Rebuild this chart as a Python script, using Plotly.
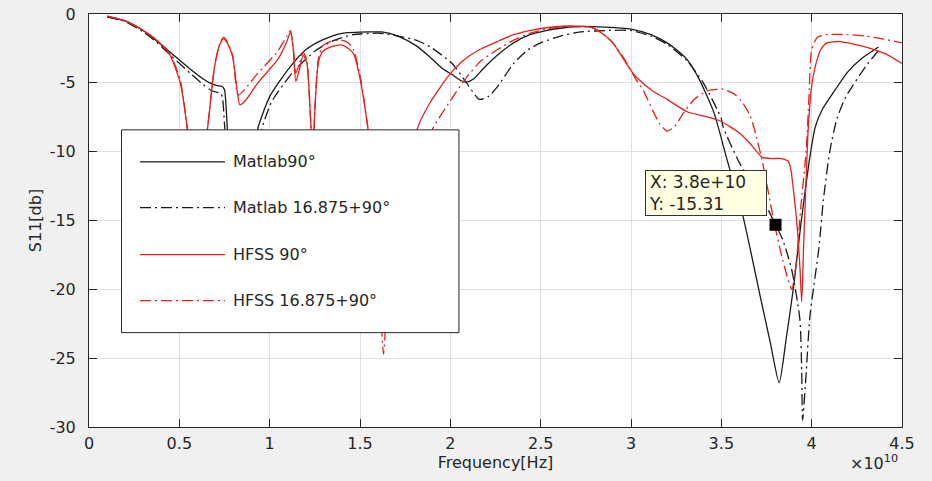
import plotly.graph_objects as go

# ---- data: frequency in GHz, |S11| in dB ----
matlab90_ghz = [1.0, 2.0, 3.0, 3.7, 4.6, 5.6, 6.3, 6.7, 7.1, 7.35, 7.5, 7.6, 7.7, 7.85, 8.15, 8.55,
                8.95, 9.25, 9.35, 10.0, 11.1, 12.0, 12.9, 14.0, 15.7, 16.2, 17.1, 18.1, 18.85, 19.6,
                20.1, 20.6, 20.9, 21.3, 21.8, 22.6, 23.5, 24.4, 25.3, 26.3, 27.2, 28.6, 30.0, 31.1,
                32.0, 32.7, 33.1, 33.8, 34.6, 35.3, 36.2, 37.2, 37.7, 38.2, 38.6, 39.0, 39.4, 39.9,
                40.2, 40.6, 41.2, 42.0, 42.7, 43.7]
matlab90_db = [-0.2, -0.5, -1.2, -1.9, -2.9, -4.0, -4.7, -5.0, -5.2, -5.25, -5.5, -7.0, -9.5, -13, -17, -19,
               -14, -9.5, -8.3, -6.0, -3.9, -2.6, -1.9, -1.4, -1.3, -1.3, -1.6, -2.3, -3.1, -4.0,
               -4.4, -4.85, -4.95, -4.7, -4.0, -3.0, -2.1, -1.5, -1.2, -1.0, -0.9, -0.95, -1.1, -1.5,
               -2.1, -2.8, -3.3, -4.8, -7.2, -10.5, -14.7, -20.8, -23.8, -26.8, -23.5, -19.8, -15.3, -10.4,
               -8.2, -6.9, -5.7, -4.2, -3.3, -2.4]

matlab_shift_ghz = [1.0, 2.0, 3.0, 3.7, 4.6, 5.6, 6.3, 6.7, 7.1, 7.3, 7.4, 7.5, 7.6, 7.9, 8.3, 8.7,
                    9.1, 9.4, 9.55, 10.1, 11.3, 12.6, 13.6, 14.6, 16.1, 17.1, 18.1, 18.9, 20.1, 20.9,
                    21.6, 22.1, 22.6, 23.5, 24.3, 25.0, 26.1, 27.2, 28.6, 30.0, 31.1, 32.0, 33.1, 34.0,
                    35.0, 35.1, 36.0, 37.5, 38.0, 38.4, 38.9, 39.35, 39.45, 39.5, 39.7, 39.9, 40.4,
                    40.65, 41.0, 41.4, 41.9, 43.0, 43.8]
matlab_shift_db = [-0.2, -0.55, -1.3, -2.0, -3.1, -4.3, -5.1, -5.5, -5.7, -5.75, -6.2, -8.0, -10, -14, -18, -19,
                   -14, -9.5, -8.4, -6.4, -4.2, -2.6, -1.9, -1.5, -1.4, -1.6, -1.9, -2.4, -3.6, -5.0,
                   -6.2, -6.0, -5.3, -3.6, -2.6, -2.1, -1.6, -1.3, -1.2, -1.2, -1.6, -2.2, -3.4, -5.0,
                   -7.6, -8.2, -10.8, -14.0, -15.31, -16.4, -18.6, -22.2, -26.0, -29.5, -26.0, -22.0, -17.0,
                   -13.5, -10.0, -7.6, -6.0, -3.8, -2.5]

hfss90_ghz = [1.0, 2.0, 3.0, 3.75, 4.45, 5.05, 5.45, 5.65, 5.85, 6.1, 6.3, 6.55, 6.95, 7.25, 7.45, 7.65,
              7.95, 8.15, 8.35, 8.65, 9.35, 10.45, 10.95, 11.15, 11.3, 11.45, 11.65, 11.85, 12.05, 12.2,
              12.3, 12.4, 12.5, 12.7, 12.95, 13.35, 13.95, 14.35, 14.65, 15.05, 15.45, 15.8, 16.3, 16.9,
              17.5, 18.15, 18.85, 19.9, 20.7, 21.6, 22.6, 23.5, 24.4, 25.3, 26.55, 27.3, 27.9, 28.5,
              29.0, 29.4, 30.1, 30.3, 31.2, 32.0, 33.1, 34.0, 34.8, 35.5, 36.05, 36.65, 37.25, 37.8,
              38.3, 38.7, 38.85, 38.95, 39.2, 39.35, 39.45, 39.55, 39.65, 39.8, 40.0, 40.2, 40.5,
              40.85, 41.55, 43.0, 44.1, 45.0]
hfss90_db = [-0.15, -0.5, -1.2, -1.9, -2.9, -5.0, -8.4, -11, -14, -12, -10, -8.4, -3.8, -2.2, -1.8, -2.1,
             -3.1, -5.0, -6.6, -6.3, -5.0, -3.3, -2.0, -1.3, -2.5, -4.9, -4.0, -3.0, -3.5, -6.0,
             -8.5, -10, -7, -3.5, -2.7, -2.4, -2.25, -2.5, -2.9, -5.0, -8.4, -12, -17, -18,
             -13, -8.4, -6.5, -4.5, -3.4, -2.6, -2.0, -1.5, -1.2, -1.0, -0.87, -0.9, -1.0, -1.5,
             -2.1, -2.9, -4.3, -4.6, -5.6, -6.2, -7.1, -7.4, -7.7, -8.2, -8.7, -9.5, -10.4, -10.5,
             -10.5, -10.7, -11.3, -12.3, -15.5, -18.4, -20.9, -17, -13.5, -8.6, -5.2, -3.8, -2.6,
             -2.1, -2.0, -2.4, -2.9, -3.6]

hfss_shift_ghz = [1.0, 2.0, 3.0, 3.75, 4.45, 5.05, 5.45, 5.75, 5.95, 6.25, 6.55, 6.95, 7.25, 7.45, 7.65,
                  7.95, 8.25, 8.6, 9.35, 10.45, 10.95, 11.15, 11.3, 11.45, 11.65, 11.85, 12.05, 12.2,
                  12.3, 12.4, 12.5, 12.7, 12.95, 13.35, 13.95, 14.35, 14.65, 15.05, 15.45, 15.75, 16.0,
                  16.2, 16.3, 16.4, 16.7, 17.5, 18.2, 19.0, 20.0, 20.9, 21.7, 22.6, 23.5, 24.4, 25.5,
                  26.5, 27.3, 27.9, 28.5, 29.0, 29.6, 30.3, 30.7, 31.2, 31.6, 32.0, 32.4, 32.9, 33.5,
                  34.2, 35.05, 35.7, 36.1, 36.6, 36.9, 37.3, 37.9, 38.4, 38.9, 39.15, 39.4, 39.7, 39.85,
                  40.0, 40.3, 40.8, 42.0, 43.0, 43.9, 45.0]
hfss_shift_db = [-0.15, -0.5, -1.2, -1.9, -2.8, -4.8, -8.4, -12, -14, -11, -8.4, -3.8, -2.1, -1.7, -2.0,
                 -3.0, -5.9, -5.5, -4.3, -2.7, -1.6, -1.2, -2.3, -4.3, -3.6, -2.8, -3.3, -6,
                 -8.5, -10, -7, -3.2, -2.3, -2.0, -1.9, -2.1, -2.6, -4.8, -8.4, -12, -18,
                 -23, -24.7, -23, -18, -15, -11.5, -8.4, -6.3, -4.6, -3.4, -2.6, -1.9, -1.4, -1.05,
                 -0.9, -0.95, -1.0, -1.5, -2.1, -3.2, -4.8, -5.6, -7.0, -8.0, -8.5, -8.2, -7.2, -6.2,
                 -5.6, -5.45, -5.8, -6.3, -7.4, -8.7, -10.9, -15.0, -17.9, -20.0, -18, -14, -9.9, -6.0,
                 -2.6, -1.7, -1.5, -1.5, -1.6, -1.8, -2.1]

series_names = ["Matlab90°", "Matlab 16.875+90°", "HFSS 90°", "HFSS 16.875+90°"]
series_freq = [matlab90_ghz, matlab_shift_ghz, hfss90_ghz, hfss_shift_ghz]
series_s11 = [matlab90_db, matlab_shift_db, hfss90_db, hfss_shift_db]

# data cursor
cursor_hz = 3.8e10
cursor_db = -15.31

x_ticks = [0, 0.5, 1, 1.5, 2, 2.5, 3, 3.5, 4, 4.5]      # in units of 1e10 Hz
y_ticks = [-30, -25, -20, -15, -10, -5, 0]

# ---- styling ----
BLACK = "#1a1a1a"
RED = "#e3211f"
DASHDOT = "11px,4px,2px,4px"
styles = [(BLACK, "solid"), (BLACK, DASHDOT), (RED, "solid"), (RED, DASHDOT)]
AXIS = "#262626"
FONT = "DejaVu Sans"

fig = go.Figure()
for name, f, s, (col, dash) in zip(series_names, series_freq, series_s11, styles):
    fig.add_trace(go.Scatter(
        x=[v * 1e9 for v in f], y=s, mode="lines", name=name, showlegend=False,
        line=dict(color=col, width=1.3, dash=dash, shape="spline", smoothing=0.6),
        hoverinfo="skip",
    ))

fig.add_trace(go.Scatter(
    x=[cursor_hz], y=[cursor_db], mode="markers", showlegend=False, hoverinfo="skip",
    marker=dict(symbol="square", size=12, color="black"),
))

fig.add_annotation(
    x=cursor_hz, y=cursor_db, xref="x", yref="y",
    text=f"X: {cursor_hz:.1e}<br>Y: {cursor_db:.2f}",
    showarrow=False, xanchor="right", yanchor="bottom", xshift=-9, yshift=9,
    align="left", width=114, height=38, borderpad=3,
    bgcolor="#ffffe1", bordercolor="#333333", borderwidth=1,
    font=dict(family=FONT, size=17, color="#262626"),
)

# legend box drawn with wide line samples
legend_box = dict(x0=0.040, x1=0.455, y0=0.2285, y1=0.7195)
legend_rows = [0.642, 0.531, 0.4172, 0.3059]
fig.add_shape(type="rect", xref="paper", yref="paper", layer="above",
              fillcolor="white", line=dict(color=AXIS, width=1), **legend_box)
for name, yy, (col, dash) in zip(series_names, legend_rows, styles):
    fig.add_shape(type="line", xref="paper", yref="paper", layer="above",
                  x0=0.0627, x1=0.1673, y0=yy, y1=yy,
                  line=dict(color=col, width=1.3, dash=dash))
    fig.add_annotation(x=0.1745, y=yy, xref="paper", yref="paper", text=name,
                       showarrow=False, xanchor="left", yanchor="middle",
                       font=dict(family=FONT, size=16, color="#262626"))

# axis exponent
fig.add_annotation(x=0.998, y=-0.085, xref="paper", yref="paper",
                   text="×10<sup>10</sup>", showarrow=False,
                   xanchor="right", yanchor="middle",
                   font=dict(family=FONT, size=16, color="#262626"))

axis_common = dict(
    showgrid=True, gridcolor="#dfdfdf", gridwidth=1,
    showline=True, linecolor=AXIS, linewidth=1, mirror="ticks",
    ticks="inside", ticklen=8, tickcolor=AXIS, zeroline=False,
    tickfont=dict(family=FONT, size=16, color="#262626"),
)

fig.update_xaxes(
    range=[0, 4.5e10], tickvals=[t * 1e10 for t in x_ticks],
    ticktext=[f"{t:g}" for t in x_ticks], ticklabelstandoff=2,
    title=dict(text="Frequency[Hz]", standoff=4,
               font=dict(family=FONT, size=16, color="#262626")),
    **axis_common,
)
fig.update_yaxes(
    range=[-30, 0], tickvals=y_ticks, ticktext=[f"{t:g}" for t in y_ticks],
    ticklabelstandoff=9,
    title=dict(text="S11[db]", standoff=4,
               font=dict(family=FONT, size=16, color="#262626")),
    **axis_common,
)

fig.update_layout(
    width=932, height=481,
    margin=dict(l=89, r=30, t=14, b=54, autoexpand=False),
    paper_bgcolor="#f0f0f0", plot_bgcolor="white",
    font=dict(family=FONT, color="#262626"),
)

fig.write_html("out.html")
